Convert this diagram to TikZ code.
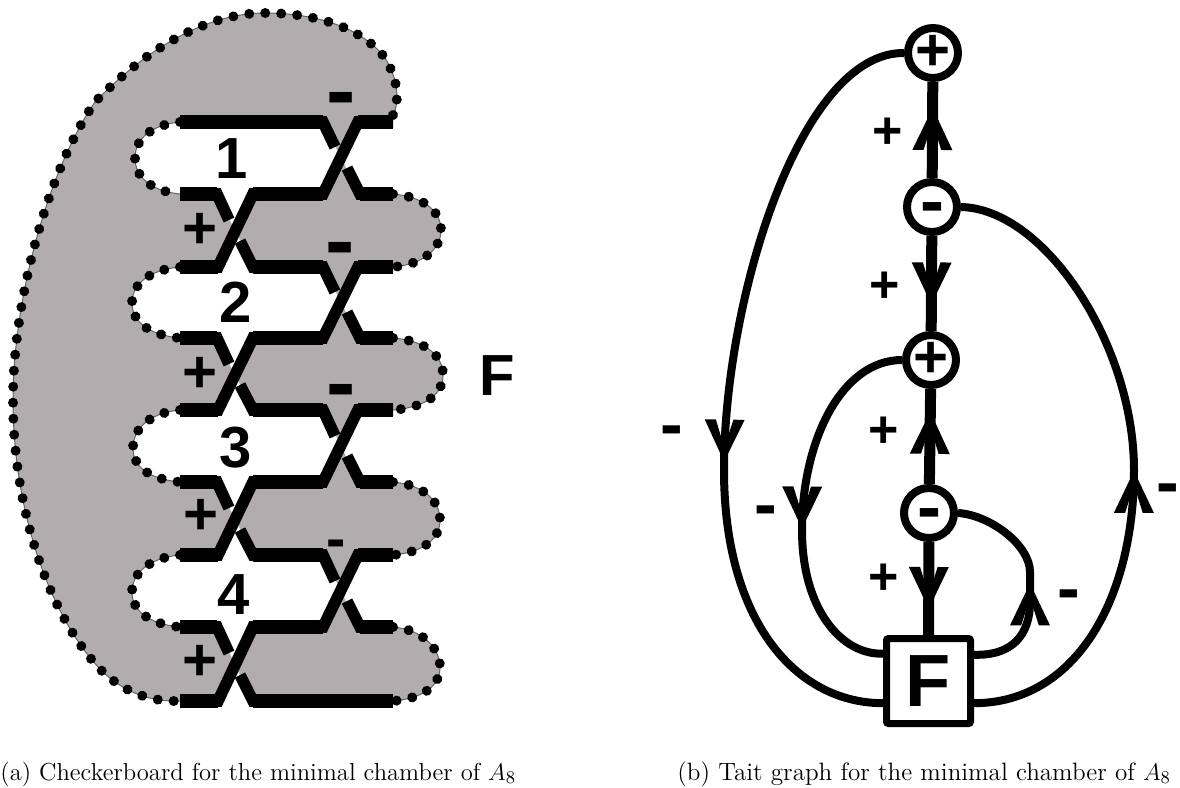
\documentclass[tikz,border=0pt]{standalone}
\usepackage{fontspec}
\usepackage{xcolor}
\usetikzlibrary{arrows.meta, positioning, decorations.markings}
\newfontfamily\signfont{Liberation Sans}
\definecolor{boardgray}{HTML}{B1ACAD}

\begin{document}
\begin{tikzpicture}[
  x=0.5pt, y=-0.5pt,
  dotline/.style={draw=black!60, line width=0.5pt, postaction={draw=black, line width=5pt, line cap=round, dash pattern=on 0.01pt off 8pt}},
  strand/.style={line width=5.8pt, line join=miter},
  bar/.style={line width=7.2pt},
  plussign/.style={inner sep=0pt, font=\signfont\bfseries\fontsize{30}{30}\selectfont},
  edgeplus/.style={inner sep=0pt, font=\signfont\bfseries\fontsize{26}{26}\selectfont},
  minussign/.style={inner sep=0pt, yshift=-4.4pt, font=\signfont\bfseries\fontsize{44}{44}\selectfont},
  edgeminus/.style={inner sep=0pt, yshift=-3.4pt, font=\signfont\bfseries\fontsize{34}{34}\selectfont},
  numlabel/.style={inner sep=0pt, font=\signfont\bfseries\fontsize{29}{29}\selectfont},
  vertexnode/.style={circle, draw, line width=4pt, fill=white, minimum size=25pt, inner sep=0pt, font=\signfont\bfseries\fontsize{30}{30}\selectfont},
  vertexminus/.style={vertexnode, font=\signfont\bfseries\fontsize{36}{36}\selectfont},
  facebox/.style={rectangle, draw, line width=3.5pt, fill=white, rounded corners=1pt, minimum width=42pt, minimum height=42.5pt, inner sep=0pt, font=\signfont\bfseries\fontsize{37}{37}\selectfont},
  arcedge/.style={line width=4pt},
  spine/.style={line width=5.5pt},
  tipat/.style={decoration={markings, mark=at position #1 with {\fill (0pt,0pt) -- (-21pt,10pt) -- (-21pt,4.4pt) -- (-7pt,0pt) -- (-21pt,-4.4pt) -- (-21pt,-10pt) -- cycle;}}, postaction={decorate}},
  caption/.style={inner sep=0pt, anchor=base west, font=\fontsize{12.55}{15}\selectfont}
]
\useasboundingbox (0,0) rectangle (1180,788);

% Checkerboard shading
\fill[boardgray] (393,122) .. controls (397,108) and (402,85) .. (385,58)
  .. controls (360,25) and (310,13) .. (265,13)
  .. controls (210,13) and (150,45) .. (95,102)
  .. controls (48,170) and (13,300) .. (13,400)
  .. controls (13,510) and (50,620) .. (104,673)
  .. controls (125,692) and (150,702) .. (180,701)
  -- (393,701) .. controls (425,698) and (440,685) .. (440,667) .. controls (440,650) and (425,630) .. (393,627)
  -- (358,627) -- (341,591) -- (360,555) -- (393,555) .. controls (425,552) and (440,538) .. (440,520) .. controls (440,502) and (425,485) .. (393,482)
  -- (358,482) -- (341,446) -- (360,410) -- (393,410) .. controls (428,407) and (443,393) .. (443,375) .. controls (443,357) and (428,341) .. (393,338)
  -- (358,338) -- (341,302) -- (360,267) -- (393,267) .. controls (425,264) and (441,248) .. (441,230) .. controls (441,212) and (425,197) .. (393,194)
  -- (360,194) -- (341,158) -- (358,122) -- cycle;
\fill[white] (180,122) -- (323,122) -- (341,158) -- (323,194) -- (253,194) -- (235,230) -- (217,194) -- (180,194)
  .. controls (150,191) and (135,176) .. (135,158) .. controls (135,140) and (150,125) .. (180,122) -- cycle;
\fill[white] (180,267) -- (218,267) -- (235,230) -- (253,267) -- (323,267) -- (341,302) -- (323,338) -- (253,338) -- (235,375) -- (217,338) -- (180,338)
  .. controls (148,335) and (132,321) .. (132,303) .. controls (132,285) and (148,270) .. (180,267) -- cycle;
\fill[white] (180,410) -- (218,410) -- (235,375) -- (253,410) -- (323,410) -- (341,446) -- (323,482) -- (253,482) -- (235,519) -- (217,482) -- (180,482)
  .. controls (148,479) and (133,466) .. (133,448) .. controls (133,430) and (148,413) .. (180,410) -- cycle;
\fill[white] (180,555) -- (218,555) -- (235,519) -- (253,555) -- (323,555) -- (341,591) -- (323,627) -- (253,627) -- (235,664) -- (217,627) -- (180,627)
  .. controls (148,624) and (132,610) .. (132,592) .. controls (132,574) and (148,558) .. (180,555) -- cycle;
\fill[white] (218,705) -- (235,664) -- (253,705) -- cycle;

% Dotted outline
\draw[dotline] (393,115) .. controls (397,108) and (402,85) .. (385,58)
  .. controls (360,25) and (310,13) .. (265,13)
  .. controls (210,13) and (150,45) .. (95,102)
  .. controls (48,170) and (13,300) .. (13,400)
  .. controls (13,510) and (50,620) .. (104,673)
  .. controls (125,692) and (150,702) .. (180,701);
\draw[dotline] (180,122) .. controls (150,125) and (135,140) .. (135,158) .. controls (135,176) and (150,191) .. (180,194);
\draw[dotline] (180,267) .. controls (148,270) and (132,285) .. (132,303) .. controls (132,321) and (148,335) .. (180,338);
\draw[dotline] (180,410) .. controls (148,413) and (133,430) .. (133,448) .. controls (133,466) and (148,479) .. (180,482);
\draw[dotline] (180,555) .. controls (148,558) and (132,574) .. (132,592) .. controls (132,610) and (148,624) .. (180,627);
\draw[dotline] (393,194) .. controls (425,197) and (441,212) .. (441,230) .. controls (441,248) and (425,264) .. (393,267);
\draw[dotline] (393,338) .. controls (428,341) and (443,357) .. (443,375) .. controls (443,393) and (428,407) .. (393,410);
\draw[dotline] (393,482) .. controls (425,485) and (440,502) .. (440,520) .. controls (440,538) and (425,552) .. (393,555);
\draw[dotline] (393,627) .. controls (425,630) and (440,650) .. (440,667) .. controls (440,685) and (425,698) .. (393,701);

% Strands
\draw[strand] (393,122) -- (358,122) -- (323,194) -- (253,194) -- (218,267) -- (180,267);
\draw[strand] (393,267) -- (358,267) -- (323,338) -- (253,338) -- (218,410) -- (180,410);
\draw[strand] (393,410) -- (358,410) -- (323,482) -- (253,482) -- (218,555) -- (180,555);
\draw[strand] (393,555) -- (358,555) -- (323,627) -- (253,627) -- (218,701) -- (180,701);
\draw[strand] (300,122) -- (323,122) -- (335,147);
\draw[strand] (347,168) -- (360,194) -- (380,194);
\draw[strand] (200,194) -- (217,194) -- (229,220);
\draw[strand] (240,241) -- (253,267) -- (323,267) -- (335,292);
\draw[strand] (347,312) -- (360,338) -- (380,338);
\draw[strand] (200,338) -- (217,338) -- (229,364);
\draw[strand] (240,385) -- (253,410) -- (323,410) -- (335,436);
\draw[strand] (347,456) -- (360,482) -- (380,482);
\draw[strand] (200,482) -- (217,482) -- (229,508);
\draw[strand] (240,530) -- (253,555) -- (323,555) -- (335,581);
\draw[strand] (347,601) -- (360,627) -- (380,627);
\draw[strand] (200,627) -- (217,627) -- (229,653);
\draw[strand] (240,675) -- (253,701) -- (380,701);
\draw[bar] (180,122) -- (323,122) (358,122) -- (393,122);
\draw[bar] (180,194) -- (217,194) (253,194) -- (323,194) (360,194) -- (393,194);
\draw[bar] (180,267) -- (218,267) (253,267) -- (323,267) (358,267) -- (393,267);
\draw[bar] (180,338) -- (217,338) (253,338) -- (323,338) (360,338) -- (393,338);
\draw[bar] (180,410) -- (218,410) (253,410) -- (323,410) (358,410) -- (393,410);
\draw[bar] (180,482) -- (217,482) (253,482) -- (323,482) (360,482) -- (393,482);
\draw[bar] (180,555) -- (218,555) (253,555) -- (323,555) (358,555) -- (393,555);
\draw[bar] (180,627) -- (217,627) (253,627) -- (323,627) (360,627) -- (393,627);
\draw[bar] (180,701) -- (218,701) (253,701) -- (393,701);

% Checkerboard labels
\node[numlabel] (one) at (232,159) {1};
\node[numlabel] (two) at (236,302) {2};
\node[numlabel] (three) at (236,448) {3};
\node[numlabel] (four) at (234,595) {4};
\node[plussign] (boardplusa) at (200,231) {+};
\node[plussign] (boardplusb) at (200,375) {+};
\node[plussign] (boardplusc) at (201,517) {+};
\node[plussign] (boardplusd) at (200,663) {+};
\node[minussign] (boardminusa) at (341,98) {-};
\node[minussign] (boardminusb) at (340,248) {-};
\node[minussign] (boardminusc) at (341,390) {-};
\node[edgeminus, font=\signfont\bfseries\fontsize{29}{29}\selectfont] (boardminusd) at (336,542) {-};
\node[numlabel] (outerface) at (497,376) {F};

% Nodes
\node[vertexnode] (plusa) at (933,53) {+};
\node[vertexminus] (minusa) at (932,207) {\raisebox{-9.3pt}[0pt][0pt]{-}};
\node[vertexnode] (plusb) at (931,360) {+};
\node[vertexminus] (minusb) at (929,513) {\raisebox{-9.3pt}[0pt][0pt]{-}};
\node[facebox] (face) at (928.5,681) {F};

% Arrows
\draw[spine, tipat=0.73] (minusa) -- (plusa);
\draw[spine, tipat=0.72] (minusa) -- (plusb);
\draw[spine, tipat=0.76] (minusb) -- (plusb);
\draw[spine, tipat=0.72] (minusb) -- (face);
\draw[arcedge, tipat=0.595] (plusa.180) .. controls (800,52) and (724,300) .. (724,470) .. controls (724,620) and (795,703) .. (face.206);
\draw[arcedge, tipat=0.565] (plusb.180) .. controls (842,360) and (802,440) .. (802,530) .. controls (802,610) and (842,655) .. (face.149);
\draw[arcedge, tipat=0.48] (face.-26) .. controls (1075,703) and (1134,600) .. (1134,470) .. controls (1134,345) and (1045,209) .. (minusa.0);
\draw[arcedge, tipat=0.49] (face.30) .. controls (1012,656) and (1030,635) .. (1030,602) -- (1030,572) .. controls (1030,545) and (990,515) .. (minusb.0);

% Edge labels
\node[edgeplus] (edgeplusa) at (888,133) {+};
\node[edgeplus] (edgeplusb) at (885,287) {+};
\node[edgeplus] (edgeplusc) at (884,432) {+};
\node[edgeplus] (edgeplusd) at (884,579) {+};
\node[edgeminus] (edgeminusa) at (672,430) {-};
\node[edgeminus] (edgeminusb) at (766,510) {-};
\node[edgeminus] (edgeminusc) at (1069,594) {-};
\node[edgeminus] (edgeminusd) at (1168,488) {-};

% Captions
\node[caption, font=\fontsize{12.3}{15}\selectfont] (captiona) at (0,780) {(a) Checkerboard for the minimal chamber of $A_8$};
\node[caption] (captionb) at (677,780) {(b) Tait graph for the minimal chamber of $A_8$};

\end{tikzpicture}
\end{document}
